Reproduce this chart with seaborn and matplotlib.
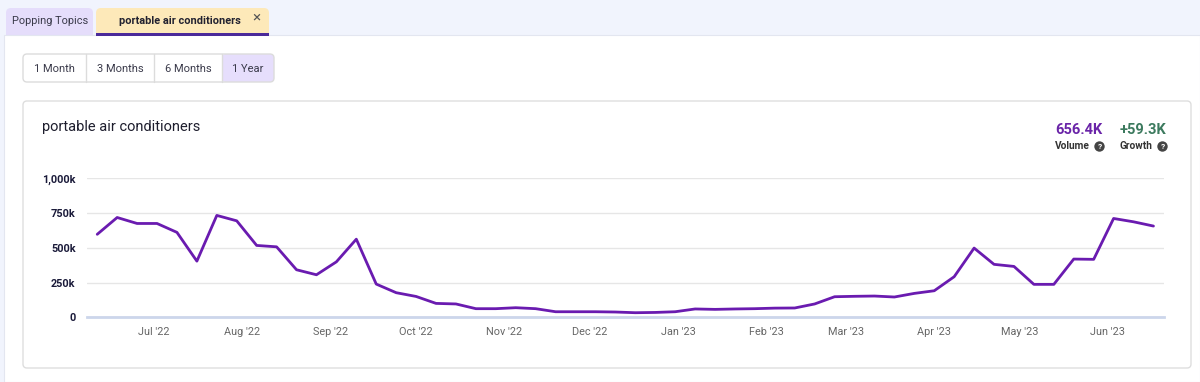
import pandas as pd
import numpy as np
import matplotlib
matplotlib.use("Agg")
import matplotlib.pyplot as plt
import matplotlib.dates as mdates
from matplotlib.patches import FancyBboxPatch, Rectangle, Circle
import seaborn as sns

# weekly search volume (thousands), first week starting 2022-06-11
start_date = "2022-06-11"
volume_k = [597.1, 718, 675, 675, 611, 404, 733, 694, 517, 507,
            342, 306, 399, 562, 239, 177, 150, 100, 96, 62,
            62, 69, 62, 40, 40, 40, 38, 33, 35, 40,
            60, 57, 60, 62, 66, 67, 96, 148, 151, 153,
            146, 172, 191, 292, 498, 381, 366, 237, 237, 419,
            417, 711, 687, 656.4]

y_ticks = [0, 250, 500, 750, 1000]
y_tick_labels = ["0", "250k", "500k", "750k", "1,000k"]
month_ticks = ["2022-07-01", "2022-08-01", "2022-09-01", "2022-10-01", "2022-11-01", "2022-12-01",
               "2023-01-01", "2023-02-01", "2023-03-01", "2023-04-01", "2023-05-01", "2023-06-01"]
month_labels = ["Jul '22", "Aug '22", "Sep '22", "Oct '22", "Nov '22", "Dec '22",
                "Jan '23", "Feb '23", "Mar '23", "Apr '23", "May '23", "Jun '23"]
range_buttons = ["1 Month", "3 Months", "6 Months", "1 Year"]
topic = "portable air conditioners"
volume_text = "656.4K"
growth_text = "+59.3K"

df = pd.DataFrame({
    "date": pd.date_range(start_date, periods=len(volume_k), freq="7D"),
    "volume": volume_k,
})

sns.set_style("white")
plt.rcParams["font.family"] = ["Roboto", "DejaVu Sans"]

W, H = 1200, 382
fig = plt.figure(figsize=(W / 100, H / 100), dpi=100)
fig.patch.set_facecolor("#f1f4fd")

# background "page" drawn in pixel coordinates
bg = fig.add_axes([0, 0, 1, 1], zorder=0)
bg.set_xlim(0, W)
bg.set_ylim(H, 0)
bg.axis("off")

# tabs
bg.add_patch(FancyBboxPatch((6, 8), 87, 34, boxstyle="round,pad=0,rounding_size=5",
                            fc="#e5ddfb", ec="none", zorder=1))
bg.add_patch(FancyBboxPatch((96, 8), 173, 34, boxstyle="round,pad=0,rounding_size=5",
                            fc="#fde9b9", ec="none", zorder=1))
bg.text(50, 21, "Popping Topics", fontsize=7.9, color="#3a3a4a", ha="center", va="center", zorder=5)
bg.text(179.5, 21.5, topic, fontsize=7.9, fontweight="bold", color="#222230", ha="center", va="center", zorder=5)
bg.text(256, 17.5, "\u00d7", fontsize=11, color="#555555", ha="center", va="center", zorder=5)

# white panel
bg.add_patch(Rectangle((4, 35), W - 4, H - 35, fc="white", ec="#e3e6f0", lw=0.8, zorder=2))
bg.add_patch(Rectangle((96, 33), 173, 2.5, fc="#4b2a9a", ec="none", zorder=3))

# range buttons
btn_edges = [23, 86, 154, 222, 274]
bg.add_patch(FancyBboxPatch((222, 54), 52, 28, boxstyle="round,pad=0,rounding_size=4",
                            fc="#e6defc", ec="none", zorder=3))
bg.add_patch(FancyBboxPatch((23, 54), 251, 28, boxstyle="round,pad=0,rounding_size=4",
                            fc="none", ec="#dcdcdc", lw=1, zorder=4))
for i, lab in enumerate(range_buttons):
    if 0 < i:
        bg.plot([btn_edges[i], btn_edges[i]], [54, 82], color="#dcdcdc", lw=1, zorder=4)
    bg.text((btn_edges[i] + btn_edges[i + 1]) / 2, 68.5, lab, fontsize=8, color="#3b3b4b",
            ha="center", va="center", zorder=5)

# chart card
bg.add_patch(FancyBboxPatch((23, 101), 1168, 267, boxstyle="round,pad=0,rounding_size=4",
                            fc="white", ec="#dedede", lw=1, zorder=3))
bg.text(42, 127, topic, fontsize=10.5, color="#1e1e2e", ha="left", va="center", zorder=5)

# volume / growth summary
bg.text(1055, 130, volume_text, fontsize=10.5, fontweight="bold", color="#6a24a8", ha="left", va="center", zorder=5)
bg.text(1120, 130, growth_text, fontsize=10.5, fontweight="bold", color="#3c7a5e", ha="left", va="center", zorder=5)
bg.text(1055, 146, "Volume", fontsize=7.3, fontweight="bold", color="#333333", ha="left", va="center", zorder=5)
bg.text(1120, 146, "Growth", fontsize=7.3, fontweight="bold", color="#333333", ha="left", va="center", zorder=5)
for cx in [1099.5, 1162.5]:
    bg.add_patch(Circle((cx, 146.5), 5.2, fc="#444444", ec="none", zorder=5))
    bg.text(cx, 146.8, "?", fontsize=6, fontweight="bold", color="white", ha="center", va="center", zorder=6)

# line chart
left, right, top, bottom = 86.7, 1164, 178.3, 317.3
ax = fig.add_axes([left / W, 1 - bottom / H, (right - left) / W, (bottom - top) / H], zorder=2)
ax.patch.set_alpha(0)

sns.lineplot(data=df, x="date", y="volume", ax=ax, color="#6a1bb0", linewidth=2)

pad = pd.Timedelta(days=3.7)
ax.set_xlim(df["date"].iloc[0] - pad, df["date"].iloc[-1] + pad)
ax.set_ylim(0, 1000)
ax.set_yticks(y_ticks)
ax.set_yticklabels(y_tick_labels)
ax.set_xticks(pd.to_datetime(month_ticks))
ax.set_xticklabels(month_labels)
ax.set_xlabel("")
ax.set_ylabel("")

ax.grid(axis="y", color="#e6e6e6", linewidth=1)
ax.grid(axis="x", visible=False)
for s in ["top", "right", "left"]:
    ax.spines[s].set_visible(False)
ax.spines["bottom"].set_color("#ccd6eb")
ax.spines["bottom"].set_linewidth(2)
ax.tick_params(axis="y", length=0, pad=8, labelsize=7.8, labelcolor="#1b1b3a")
ax.tick_params(axis="x", length=5, width=0.8, color="#dcdcdc", pad=2, labelsize=7.8, labelcolor="#666666")
for t in ax.get_yticklabels():
    t.set_fontweight("bold")

fig.savefig("out.png", dpi=100)
